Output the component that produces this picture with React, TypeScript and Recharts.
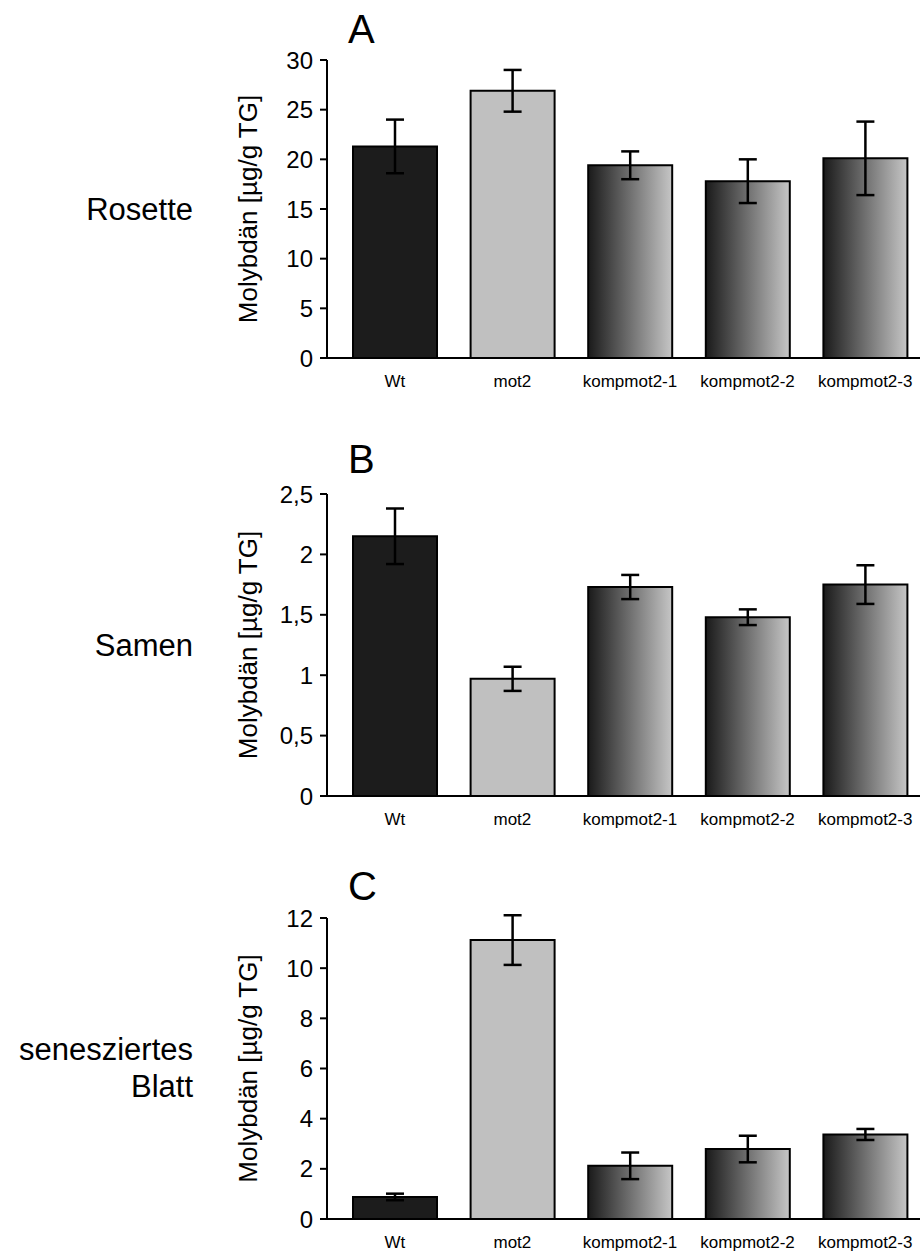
import React from "react";
import { BarChart, Bar, XAxis, YAxis, Cell, ErrorBar, Label } from "recharts";

const FONT = "'Liberation Sans', Arial, Helvetica, sans-serif";

const CATEGORIES = ["Wt", "mot2", "kompmot2-1", "kompmot2-2", "kompmot2-3"];

// A: Rosette
const ROSETTE_VALUES = [21.3, 26.9, 19.4, 17.8, 20.1];
const ROSETTE_ERRORS = [2.7, 2.1, 1.4, 2.2, 3.7];
const ROSETTE_TICKS = [0, 5, 10, 15, 20, 25, 30];

// B: Samen
const SAMEN_VALUES = [2.15, 0.97, 1.73, 1.48, 1.75];
const SAMEN_ERRORS = [0.23, 0.1, 0.1, 0.065, 0.16];
const SAMEN_TICKS = [0, 0.5, 1, 1.5, 2, 2.5];

// C: senesziertes Blatt
const BLATT_VALUES = [0.88, 11.12, 2.12, 2.79, 3.37];
const BLATT_ERRORS = [0.13, 0.99, 0.53, 0.53, 0.22];
const BLATT_TICKS = [0, 2, 4, 6, 8, 10, 12];

const Y_LABEL = "Molybdän [µg/g TG]";

const fmt = (v: number) => String(v).replace(".", ",");

interface PanelProps {
  id: string;
  values: number[];
  errors: number[];
  ticks: number[];
  plotTop: number;
  plotBottom: number;
}

function Panel({ id, values, errors, ticks, plotTop, plotBottom }: PanelProps) {
  const data = CATEGORIES.map((name, i) => ({ name, value: values[i], err: errors[i] }));
  const top = plotTop - 20;
  const height = plotBottom - plotTop + 20 + 50;
  const fills = ["#1c1c1c", "#c0c0c0", `url(#grad-${id})`, `url(#grad-${id})`, `url(#grad-${id})`];

  return (
    <div style={{ position: "absolute", left: 0, top, width: 930, height }}>
      <BarChart
        width={930}
        height={height}
        data={data}
        margin={{ top: 20, right: 6, bottom: 10, left: 169 }}
        barSize={84}
      >
        <defs>
          <linearGradient id={`grad-${id}`} x1="0" y1="0" x2="1" y2="0">
            <stop offset="0%" stopColor="#1a1a1a" />
            <stop offset="100%" stopColor="#c6c6c6" />
          </linearGradient>
        </defs>
        <XAxis
          dataKey="name"
          height={40}
          padding={{ left: 9, right: 0 }}
          axisLine={{ stroke: "#000", strokeWidth: 2 }}
          tickLine={false}
          tickSize={0}
          tickMargin={17}
          interval={0}
          tick={{ fill: "#000", fontSize: 17, fontFamily: FONT }}
        />
        <YAxis
          width={158}
          domain={[ticks[0], ticks[ticks.length - 1]]}
          ticks={ticks}
          tickFormatter={fmt}
          allowDataOverflow
          axisLine={{ stroke: "#000", strokeWidth: 2 }}
          tickLine={{ stroke: "#000", strokeWidth: 2 }}
          tickSize={7}
          tickMargin={7}
          tick={{ fill: "#000", fontSize: 24, fontFamily: FONT }}
        >
          <Label
            value={Y_LABEL}
            angle={-90}
            position="center"
            fontSize={26}
            fill="#000"
            style={{ fontSize: 26, fill: "#000", fontFamily: FONT }}
          />
        </YAxis>
        <Bar dataKey="value" isAnimationActive={false} stroke="#000" strokeWidth={2}>
          {data.map((d, i) => (
            <Cell key={d.name} fill={fills[i]} />
          ))}
          <ErrorBar dataKey="err" width={9} stroke="#000" strokeWidth={2.5} direction="y" />
        </Bar>
      </BarChart>
    </div>
  );
}

export default function App() {
  return (
    <div
      style={{
        position: "absolute",
        left: 0,
        top: 0,
        width: 920,
        height: 1259,
        overflow: "hidden",
        background: "#fff",
        fontFamily: FONT,
      }}
    >
      <Panel id="a" values={ROSETTE_VALUES} errors={ROSETTE_ERRORS} ticks={ROSETTE_TICKS} plotTop={60} plotBottom={358} />
      <Panel id="b" values={SAMEN_VALUES} errors={SAMEN_ERRORS} ticks={SAMEN_TICKS} plotTop={494} plotBottom={796} />
      <Panel id="c" values={BLATT_VALUES} errors={BLATT_ERRORS} ticks={BLATT_TICKS} plotTop={918} plotBottom={1219} />

      <svg
        width={920}
        height={1259}
        style={{ position: "absolute", left: 0, top: 0, pointerEvents: "none" }}
        fontFamily={FONT}
      >
        <text x={348} y={43} fontSize={40}>A</text>
        <text x={348} y={473} fontSize={40}>B</text>
        <text x={348} y={900} fontSize={40}>C</text>

        <text x={193} y={220} fontSize={31} textAnchor="end">Rosette</text>
        <text x={193} y={656} fontSize={31} textAnchor="end">Samen</text>
        <text x={193} y={1060} fontSize={31} textAnchor="end">senesziertes</text>
        <text x={193} y={1097} fontSize={31} textAnchor="end">Blatt</text>
      </svg>
    </div>
  );
}
